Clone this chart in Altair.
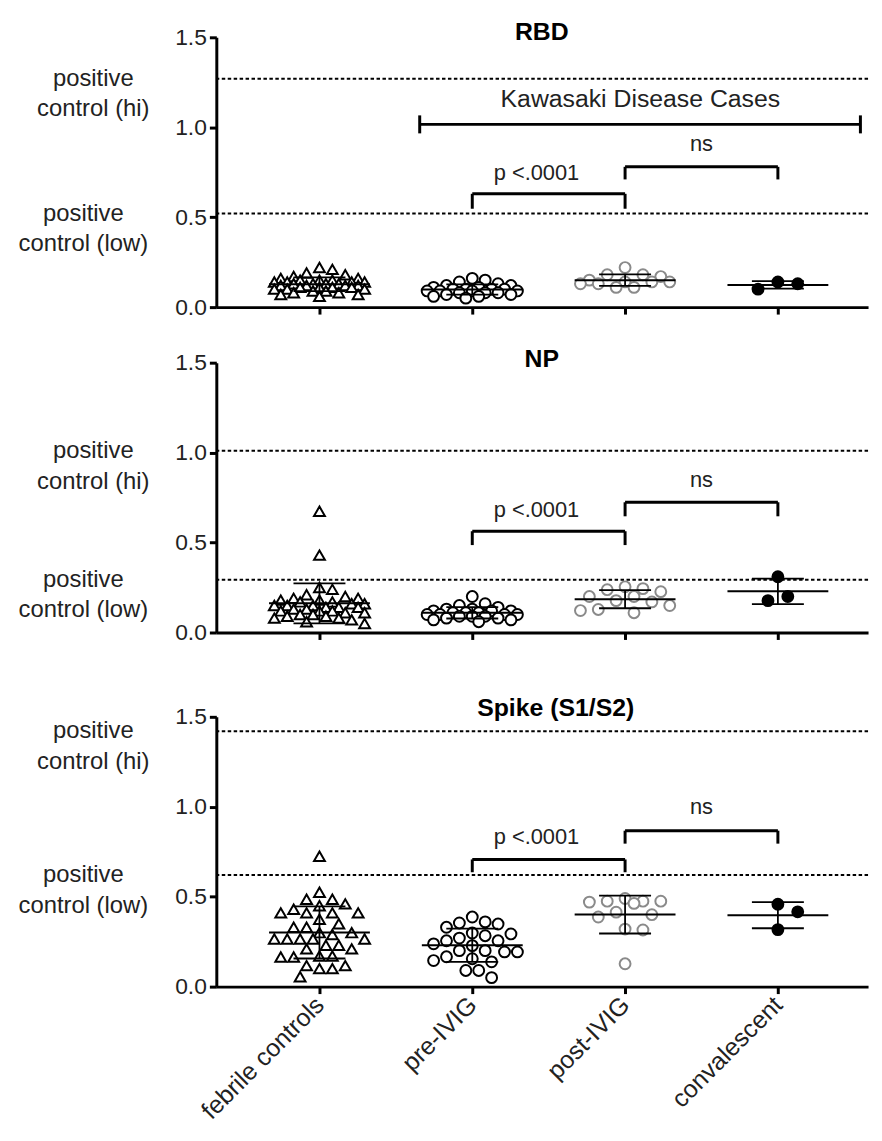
import json
import altair as alt
import pandas as pd
import numpy as np

# ---------------- data ----------------
groups = ["febrile controls", "pre-IVIG", "post-IVIG", "convalescent"]
panels = ["RBD", "NP", "Spike (S1/S2)"]

rbd_febrile = [0.22, 0.21, 0.19, 0.18, 0.17, 0.16, 0.16, 0.15, 0.15, 0.15, 0.14, 0.14,
               0.14, 0.14, 0.13, 0.13, 0.13, 0.13, 0.12, 0.12, 0.12, 0.12, 0.11, 0.11,
               0.11, 0.11, 0.10, 0.10, 0.10, 0.09, 0.09, 0.08, 0.08, 0.07, 0.07, 0.06]
rbd_pre = [0.16, 0.15, 0.14, 0.13, 0.12, 0.12, 0.11, 0.11, 0.10, 0.10, 0.10, 0.10,
           0.09, 0.09, 0.09, 0.09, 0.08, 0.08, 0.08, 0.07, 0.07, 0.06, 0.06, 0.05]
rbd_post = [0.22, 0.18, 0.18, 0.17, 0.15, 0.14, 0.14, 0.14, 0.13, 0.13, 0.11, 0.11]
rbd_conv = [0.14, 0.13, 0.10]

np_febrile = [0.674, 0.43, 0.25, 0.24, 0.21, 0.20, 0.19, 0.19, 0.18, 0.18, 0.17, 0.17,
              0.16, 0.16, 0.15, 0.15, 0.15, 0.14, 0.14, 0.14, 0.13, 0.13, 0.12, 0.12,
              0.12, 0.11, 0.11, 0.10, 0.10, 0.09, 0.09, 0.08, 0.08, 0.07, 0.06, 0.05]
np_pre = [0.20, 0.16, 0.15, 0.14, 0.13, 0.13, 0.12, 0.12, 0.12, 0.11, 0.11, 0.11,
          0.10, 0.10, 0.10, 0.10, 0.09, 0.09, 0.09, 0.08, 0.08, 0.07, 0.07, 0.06]
np_post = [0.254, 0.244, 0.238, 0.227, 0.20, 0.20, 0.177, 0.17, 0.15, 0.128, 0.122, 0.11]
np_conv = [0.31, 0.20, 0.177]

spike_febrile = [0.725, 0.525, 0.486, 0.486, 0.46, 0.45, 0.43, 0.41, 0.41, 0.41, 0.41, 0.375,
                 0.35, 0.33, 0.33, 0.30, 0.30, 0.29, 0.265, 0.265, 0.265, 0.265, 0.265, 0.23,
                 0.23, 0.21, 0.21, 0.17, 0.17, 0.165, 0.165, 0.117, 0.117, 0.10, 0.10, 0.055]
spike_pre = [0.387, 0.36, 0.354, 0.348, 0.33, 0.298, 0.293, 0.283, 0.27, 0.255, 0.255, 0.238,
             0.228, 0.2, 0.2, 0.193, 0.193, 0.166, 0.155, 0.145, 0.138, 0.09, 0.09, 0.05]
spike_post = [0.49, 0.475, 0.475, 0.475, 0.47, 0.463, 0.414, 0.40, 0.387, 0.32, 0.315, 0.127]
spike_conv = [0.458, 0.416, 0.317]

panel_values = [
    [rbd_febrile, rbd_pre, rbd_post, rbd_conv],
    [np_febrile, np_pre, np_post, np_conv],
    [spike_febrile, spike_pre, spike_post, spike_conv],
]

# positive-control reference levels per panel
pos_hi = [1.27, 1.01, 1.42]
pos_low = [0.52, 0.293, 0.62]
hi_label = "positive\ncontrol (hi)"
low_label = "positive\ncontrol (low)"

# comparison brackets: (bar level, tip level, label level)
p_label = "p <.0001"
ns_label = "ns"
p_bracket = [(0.63, 0.547, 0.745), (0.563, 0.486, 0.68), (0.707, 0.636, 0.834)]
ns_bracket = [(0.78, 0.71, 0.905), (0.724, 0.646, 0.85), (0.867, 0.795, 1.0)]
kd_label = "Kawasaki Disease Cases"
kd_span = (1.656, 4.54)
kd_level = 1.016
kd_text_level = 1.155

# ---------------- layout / style constants ----------------
FONT = "Liberation Sans"
XDOM = [0.325, 4.59]
PLOT_W = 657
PLOT_H = 272
PX_PER_X = PLOT_W / (XDOM[1] - XDOM[0])
PX_PER_Y = PLOT_H / 1.5
MEAN_HALF = 0.33
CAP_HALF = 0.17
title_pos = [(2.455, 1.53), (2.455, 1.52), (2.546, 1.55)]
hi_x, low_x = -0.48, -0.545

swarm_params = {  # collision distance, step, max half-width (px)
    "febrile controls": (12.5, 6.5, 50),
    "pre-IVIG": (12.5, 6.5, 50),
    "post-IVIG": (17.0, 9.0, 50),
    "convalescent": (20.0, 10.0, 30),
}
shape_range = ["triangle-up", "circle", "circle", "circle"]
stroke_range = ["black", "black", "#8a8a8a", "black"]
fill_range = ["white", "white", "white", "black"]
size_range = [120, 120, 120, 100]


def swarm(vals, d, step, maxw):
    order = sorted(range(len(vals)), key=lambda i: -vals[i])
    cands = [0.0]
    for k in range(1, int(maxw // step) + 1):
        cands += [k * step, -k * step]
    placed, offs = [], [0.0] * len(vals)
    for i in order:
        y = vals[i] * PX_PER_Y
        best, best_md, best_c = None, -1.0, 0.0
        for c in cands:
            md = min([np.hypot(c - px, y - py) for px, py in placed], default=1e9)
            if md >= d:
                best = c
                break
            if md > best_md:
                best_md, best_c = md, c
        if best is None:
            best = best_c
        placed.append((best, y))
        offs[i] = best / PX_PER_X
    return offs


label_expr = json.dumps(groups) + "[datum.value - 1]"


def make_panel(pi, show_labels, extra_top=0):
    h = PLOT_H + extra_top
    rows = []
    for gi, (g, vals) in enumerate(zip(groups, panel_values[pi]), start=1):
        offs = swarm(vals, *swarm_params[g])
        for v, o in zip(vals, offs):
            rows.append({"group": g, "gi": gi, "value": v, "x": gi + o})
    df = pd.DataFrame(rows)

    xs = alt.Scale(domain=XDOM, nice=False, zero=False)
    ys = alt.Scale(domain=[0, 1.5], nice=False, zero=False, range=[h, extra_top])
    xaxis = alt.Axis(values=[1, 2, 3, 4], labelExpr=label_expr, labels=show_labels,
                     labelAngle=-45, labelAlign="right", labelBaseline="middle",
                     labelFontSize=25, labelFont=FONT, labelColor="#222",
                     labelPadding=7, domainColor="black", domainWidth=3,
                     tickColor="black", tickWidth=3, tickSize=7, grid=False, title=None)
    yaxis = alt.Axis(values=[0, 0.5, 1.0, 1.5], format=".1f", labelFontSize=23,
                     labelFont=FONT, labelColor="#222", labelPadding=3,
                     domainColor="black", domainWidth=3, tickColor="black",
                     tickWidth=3, tickSize=7, grid=False, title=None)

    def X(f):
        return alt.X(f, type="quantitative", scale=xs, axis=xaxis)

    def Y(f):
        return alt.Y(f, type="quantitative", scale=ys, axis=yaxis)

    # dotted positive control lines
    ref_df = pd.DataFrame({"y": [pos_hi[pi], pos_low[pi]]})
    refs = alt.Chart(ref_df).mark_rule(strokeDash=[3.5, 2.5], strokeWidth=2,
                                      color="black").encode(y=Y("y"))

    pts = alt.Chart(df).mark_point(strokeWidth=2, opacity=1).encode(
        x=X("x"), y=Y("value"),
        shape=alt.Shape("group:N", scale=alt.Scale(domain=groups, range=shape_range), legend=None),
        stroke=alt.Stroke("group:N", scale=alt.Scale(domain=groups, range=stroke_range), legend=None),
        fill=alt.Fill("group:N", scale=alt.Scale(domain=groups, range=fill_range), legend=None),
        size=alt.Size("group:N", scale=alt.Scale(domain=groups, range=size_range), legend=None),
    )

    stats = alt.Chart(df).transform_aggregate(
        m="mean(value)", s="stdev(value)", groupby=["gi"]
    ).transform_calculate(
        lo="datum.m - datum.s", hi="datum.m + datum.s",
        xl=f"datum.gi - {MEAN_HALF}", xr=f"datum.gi + {MEAN_HALF}",
        cl=f"datum.gi - {CAP_HALF}", cr=f"datum.gi + {CAP_HALF}",
    )
    mean_r = stats.mark_rule(strokeWidth=2, color="black").encode(
        x=X("xl"), x2="xr:Q", y=Y("m"))
    sd_r = stats.mark_rule(strokeWidth=1.8, color="black").encode(
        x=X("gi"), y=Y("lo"), y2="hi:Q")
    cap_hi = stats.mark_rule(strokeWidth=1.8, color="black").encode(
        x=X("cl"), x2="cr:Q", y=Y("hi"))
    cap_lo = stats.mark_rule(strokeWidth=1.8, color="black").encode(
        x=X("cl"), x2="cr:Q", y=Y("lo"))

    # brackets
    seg = []
    for (a, b), (bar, tip, _) in [((2, 3), p_bracket[pi]), ((3, 4), ns_bracket[pi])]:
        seg.append({"x": a, "x2": b, "y": bar, "y2": bar})
        seg.append({"x": a, "x2": a, "y": bar, "y2": tip})
        seg.append({"x": b, "x2": b, "y": bar, "y2": tip})
    if pi == 0:
        seg.append({"x": kd_span[0], "x2": kd_span[1], "y": kd_level, "y2": kd_level})
        for xe in kd_span:
            seg.append({"x": xe, "x2": xe, "y": kd_level - 0.05, "y2": kd_level + 0.05})
    brackets = alt.Chart(pd.DataFrame(seg)).mark_rule(strokeWidth=3, color="black").encode(
        x=X("x"), x2="x2:Q", y=Y("y"), y2="y2:Q")

    txt = [
        {"x": 2.42, "y": p_bracket[pi][2], "t": p_label},
        {"x": 3.5, "y": ns_bracket[pi][2], "t": ns_label},
    ]
    texts = alt.Chart(pd.DataFrame(txt)).mark_text(
        font=FONT, fontSize=22, color="#222", baseline="middle", align="center"
    ).encode(x=X("x"), y=Y("y"), text="t:N")

    layers = [refs, pts, mean_r, sd_r, cap_hi, cap_lo, brackets, texts]
    if pi == 0:
        kd = alt.Chart(pd.DataFrame([{"x": 3.1, "y": kd_text_level, "t": kd_label}])).mark_text(
            font=FONT, fontSize=25, color="#222", baseline="middle", align="center"
        ).encode(x=X("x"), y=Y("y"), text="t:N")
        layers.append(kd)

    ttl = alt.Chart(pd.DataFrame([{"x": title_pos[pi][0], "y": title_pos[pi][1], "t": panels[pi]}])).mark_text(
        font=FONT, fontSize=25, fontWeight="bold", color="black", baseline="middle", align="center"
    ).encode(x=X("x"), y=Y("y"), text="t:N")

    ann = alt.Chart(pd.DataFrame([
        {"x": hi_x, "y": pos_hi[pi], "t": hi_label},
        {"x": low_x, "y": pos_low[pi], "t": low_label},
    ])).mark_text(
        font=FONT, fontSize=24, color="#222", baseline="middle", align="center",
        lineBreak="\n", lineHeight=31
    ).encode(x=X("x"), y=Y("y"), text="t:N")
    layers += [ttl, ann]

    return alt.layer(*layers).properties(width=PLOT_W, height=h)


chart = alt.vconcat(
    make_panel(0, False),
    make_panel(1, False),
    make_panel(2, True, extra_top=29),
    spacing=56, bounds="flush",
).properties(
    padding={"left": 10, "top": 7, "right": 5, "bottom": 5}
).configure_view(stroke=None)

chart.save("out.html", embed_options={"renderer": "svg", "actions": False})
